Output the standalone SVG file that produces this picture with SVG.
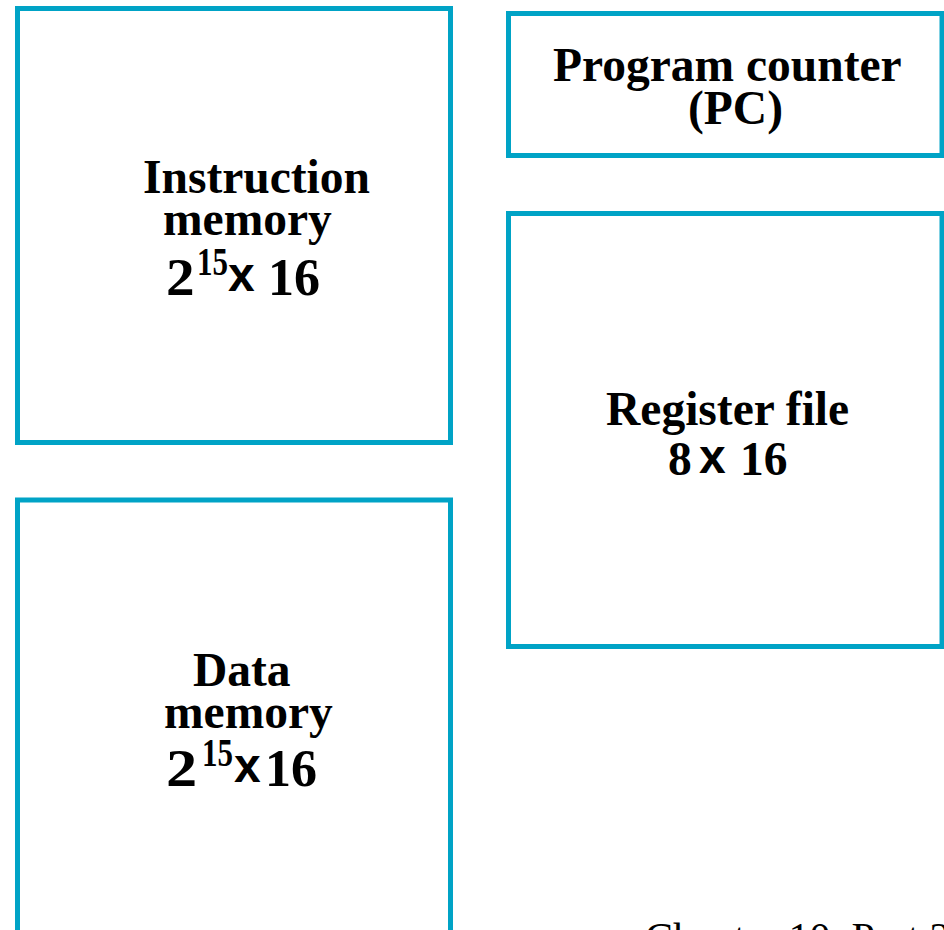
<svg xmlns="http://www.w3.org/2000/svg" width="944" height="930" viewBox="0 0 944 930">
  <style>
    .box { fill: #ffffff; stroke: #00A3C6; stroke-width: 5; }
    .lbl { font-family: "Liberation Serif", "Times New Roman", serif; font-weight: bold; font-size: 47.5px; fill: #000000; }
    .big { font-family: "Liberation Serif", "Times New Roman", serif; font-weight: bold; font-size: 52px; fill: #000000; }
    .sup { font-family: "Liberation Serif", "Times New Roman", serif; font-weight: bold; font-size: 31px; fill: #000000; }
    .times { font-family: "Liberation Sans", Arial, sans-serif; font-weight: bold; font-size: 48px; fill: #000000; }
    .foot { font-family: "Liberation Serif", "Times New Roman", serif; font-size: 42px; fill: #000000; }
  </style>
  <rect width="944" height="930" fill="#ffffff"/>

  <g id="instruction-memory">
    <rect class="box" x="17.5" y="8.5" width="433" height="434"/>
    <text class="lbl" x="143" y="193">Instruction</text>
    <text class="lbl" x="163" y="235">memory</text>
    <text class="big" transform="translate(166 295) scale(1.1 1)">2</text>
    <text class="sup" transform="translate(197 275) scale(1 1.3)">15</text>
    <text class="times" x="228" y="291">x</text>
    <text class="big" x="268" y="295">16</text>
  </g>

  <g id="program-counter">
    <rect class="box" x="508.5" y="13.5" width="433.5" height="142"/>
    <text class="lbl" x="553" y="81">Program counter</text>
    <text class="lbl" x="688" y="124">(PC)</text>
  </g>

  <g id="register-file">
    <rect class="box" x="508.5" y="213.5" width="433.5" height="433"/>
    <text class="lbl" x="606" y="425">Register file</text>
    <text class="lbl" x="668" y="475">8</text>
    <text class="times" x="699" y="473" font-size="44">x</text>
    <text class="lbl" x="740" y="475">16</text>
  </g>

  <g id="data-memory">
    <rect class="box" x="17.5" y="500" width="433" height="470"/>
    <text class="lbl" x="193" y="686">Data</text>
    <text class="lbl" x="164" y="728">memory</text>
    <text class="big" transform="translate(166 786) scale(1.2 1)">2</text>
    <text class="sup" transform="translate(202 766) scale(1 1.3)">15</text>
    <text class="times" x="234" y="782">x</text>
    <text class="big" x="265" y="786">16</text>
  </g>

  <g id="connectors"></g>

  <text class="foot" x="645" y="952">Chapter 10, Part 2</text>
</svg>
